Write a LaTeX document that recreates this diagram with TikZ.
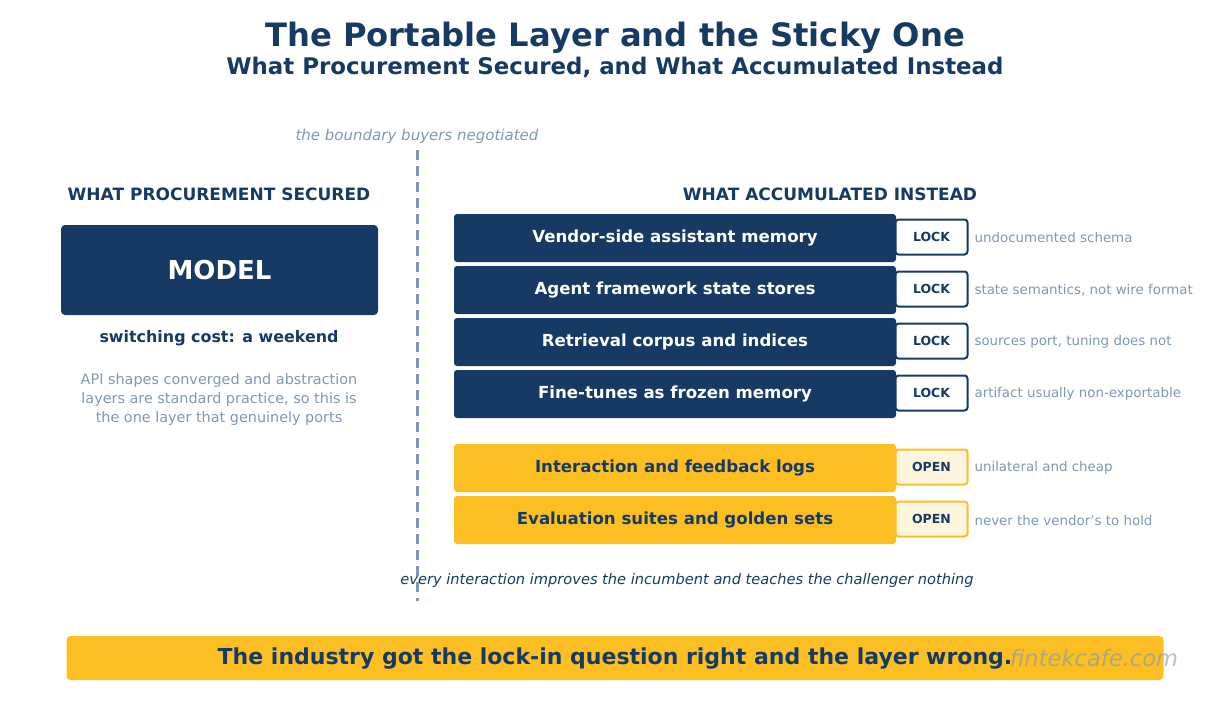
\documentclass[tikz,border=0pt]{standalone}
\usepackage{fontspec}
\setmainfont{DejaVu Sans}
\definecolor{navy}{RGB}{22,58,99}
\definecolor{gb}{RGB}{127,152,179}
\definecolor{gold}{RGB}{251,191,36}
\definecolor{cream}{RGB}{254,245,222}
\begin{document}
\begin{tikzpicture}[x=1pt,y=-1pt,
 fs/.style={font=\fontsize{#1}{#1}\selectfont},
 bfs/.style={font=\fontsize{#1}{#1}\selectfont\bfseries},
 ifs/.style={font=\fontsize{#1}{#1}\selectfont\itshape},
 bar/.style={rounded corners=3pt,minimum width=442pt,minimum height=48pt,inner sep=0pt,bfs=16.6},
 dbar/.style={bar,fill=navy,text=white},
 ybar/.style={bar,fill=gold,text=navy},
 badge/.style={rounded corners=3pt,line width=2pt,minimum width=72pt,minimum height=35pt,inner sep=0pt,bfs=12.5,text=navy},
 lock/.style={badge,draw=navy,fill=white},
 open/.style={badge,draw=gold,fill=cream},
 note/.style={anchor=west,text=gb,fs=13.4}]
\useasboundingbox (0,0) rectangle (1230,704);
\node[bfs=32.2,text=navy] (t) at (615,38) {The Portable Layer and the Sticky One};
\node[bfs=22.9,text=navy] (st) at (615,67) {What Procurement Secured, and What Accumulated Instead};
\node[ifs=15,text=gb] (bd) at (417,136) {the boundary buyers negotiated};
\coordinate (d1) at (417,150); \coordinate (d2) at (417,601);
\draw[gb,line width=3pt,dash pattern=on 10pt off 6pt] (d1)--(d2);
\node[bfs=17,text=navy] (h1) at (219,194) {WHAT PROCUREMENT SECURED};
\node[bfs=17,text=navy] (h2) at (830,194) {WHAT ACCUMULATED INSTEAD};
\node[fill=navy,rounded corners=4pt,minimum width=317pt,minimum height=90pt,text=white,bfs=26] (m) at (219.5,270) {MODEL};
\node[bfs=15.9,text=navy] (sc) at (219,338.5) {switching cost: a weekend};
\node[fs=14.4,text=gb,align=center] (p) at (219,400) {API shapes converged and abstraction\\[4.6pt]layers are standard practice, so this is\\[4.6pt]the one layer that genuinely ports};
\node[dbar] (b1) at (675,238) {Vendor-side assistant memory};
\node[dbar] (b2) at (675,290) {Agent framework state stores};
\node[dbar] (b3) at (675,342) {Retrieval corpus and indices};
\node[dbar] (b4) at (675,394) {Fine-tunes as frozen memory};
\node[ybar] (b5) at (675,468) {Interaction and feedback logs};
\node[ybar] (b6) at (675,520) {Evaluation suites and golden sets};
\node[lock] (k1) at (931.5,237) {LOCK};
\node[lock] (k2) at (931.5,289) {LOCK};
\node[lock] (k3) at (931.5,341) {LOCK};
\node[lock] (k4) at (931.5,393) {LOCK};
\node[open] (k5) at (931.5,467) {OPEN};
\node[open] (k6) at (931.5,519) {OPEN};
\node[note] (n1) at (971,238) {undocumented schema};
\node[note] (n2) at (971,290) {state semantics, not wire format};
\node[note] (n3) at (971,342) {sources port, tuning does not};
\node[note] (n4) at (971,394) {artifact usually non-exportable};
\node[note] (n5) at (971,468) {unilateral and cheap};
\node[note] (n6) at (971,520) {never the vendor's to hold};
\node[ifs=14.6,text=navy] (e) at (687,580) {every interaction improves the incumbent and teaches the challenger nothing};
\node[fill=gold,rounded corners=4pt,minimum width=1097pt,minimum height=44pt,inner sep=0pt] (bb) at (615,658) {};
\node[bfs=22,text=navy] (bt) at (615,659) {The industry got the lock-in question right and the layer wrong.};
\node[ifs=22.6,text=gb,opacity=0.6] (w) at (1094,658) {fintekcafe.com};
\end{tikzpicture}
\end{document}
